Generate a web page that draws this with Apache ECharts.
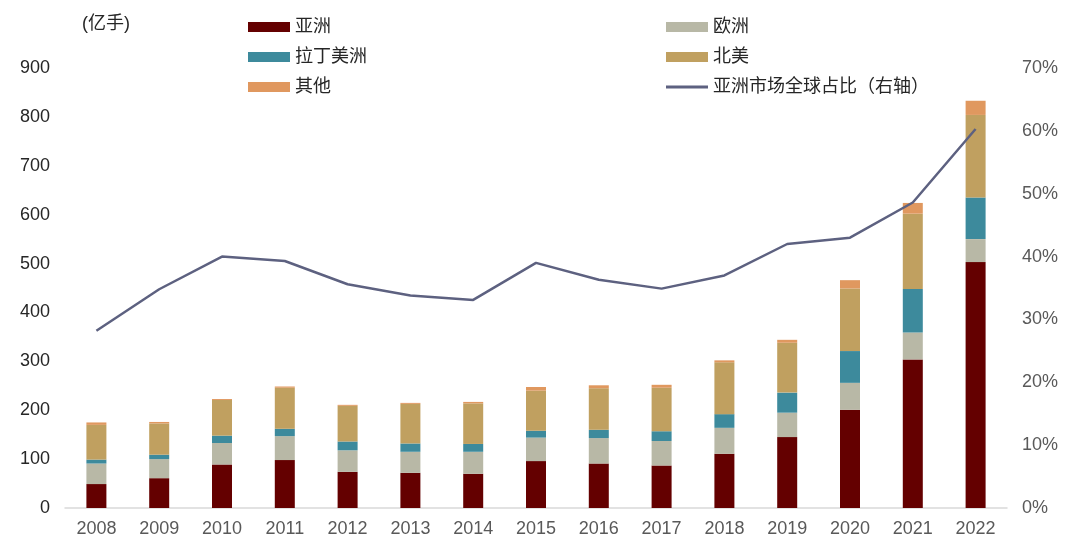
<!DOCTYPE html>
<html><head><meta charset="utf-8">
<script src="https://cdn.jsdelivr.net/npm/echarts@6/dist/echarts.min.js"></script>
<style>html,body{margin:0;padding:0;background:#fff}#c{width:1070px;height:555px}</style>
</head><body><div id="c"></div>
<script>
const years = ['2008','2009','2010','2011','2012','2013','2014','2015','2016','2017','2018','2019','2020','2021','2022'];
const asia   = [49, 61, 89, 98, 74, 72, 70, 96, 91, 87, 111, 145, 201, 304, 503];
const europe = [42, 39, 44, 49, 44, 43, 45, 48, 52, 50, 53, 50, 55, 55, 47];
const latam  = [8, 9, 15, 15, 18, 17, 16, 14, 17, 20, 28, 41, 65, 89, 85];
const northAmerica = [71, 64, 73, 84, 73, 81, 83, 82, 85, 89, 106, 102, 128, 154, 169];
const other  = [5, 3, 2, 2.5, 2, 2, 3, 7.5, 6, 6, 4, 6, 17, 22, 29];
const asiaShare = [28.2, 34.8, 40.0, 39.3, 35.6, 33.8, 33.1, 39.0, 36.3, 34.9, 37.0, 42.0, 43.0, 48.6, 60.3];
const leftTicks = {min: 0, max: 900, interval: 100};
const rightTicks = {min: 0, max: 70, interval: 10};

const FONT = '"Liberation Sans", Arial, "Noto Sans CJK SC", sans-serif';
const chart = echarts.init(document.getElementById('c'));
const barSeries = (name, data, color) => ({
  name, type: 'bar', stack: 'total', data, barWidth: 20,
  itemStyle: {color}, yAxisIndex: 0
});
const legendText = {fontSize: 18, color: '#262626', fontFamily: FONT};
chart.setOption({
  animation: false,
  textStyle: {fontFamily: FONT},
  grid: {left: 65, right: 63, top: 68, bottom: 47},
  legend: [
    {orient: 'vertical', left: 243, top: 13, itemWidth: 42, itemHeight: 10, itemGap: 12,
     icon: 'rect', textStyle: legendText,
     data: ['亚洲', '拉丁美洲', '其他']},
    {orient: 'vertical', left: 661, top: 13, itemWidth: 42, itemHeight: 10, itemGap: 12,
     textStyle: legendText, symbolKeepAspect: true,
     data: [{name: '欧洲', icon: 'rect'}, {name: '北美', icon: 'rect'},
            {name: '亚洲市场全球占比（右轴）', icon: 'path://M0,0 L42,0 L42,3 L0,3 Z'}]}
  ],
  graphic: [{type: 'text', left: 82, top: 15, style: {text: '(亿手)', fontSize: 18, fill: '#262626', fontFamily: FONT}}],
  xAxis: {
    type: 'category', data: years,
    axisLine: {lineStyle: {color: '#d9d9d9', width: 1.5}},
    axisTick: {show: false},
    axisLabel: {fontSize: 18, color: '#595959', margin: 12}
  },
  yAxis: [
    {type: 'value', min: leftTicks.min, max: leftTicks.max, interval: leftTicks.interval,
     splitLine: {show: false}, axisLine: {show: false}, axisTick: {show: false},
     axisLabel: {fontSize: 18, color: '#262626', margin: 15}},
    {type: 'value', min: rightTicks.min, max: rightTicks.max, interval: rightTicks.interval,
     position: 'right', splitLine: {show: false}, axisLine: {show: false}, axisTick: {show: false},
     axisLabel: {fontSize: 18, color: '#595959', margin: 15, formatter: '{value}%'}}
  ],
  series: [
    barSeries('亚洲', asia, '#640000'),
    barSeries('欧洲', europe, '#b8b8a6'),
    barSeries('拉丁美洲', latam, '#3d8a9c'),
    barSeries('北美', northAmerica, '#c0a060'),
    barSeries('其他', other, '#e0985f'),
    {name: '亚洲市场全球占比（右轴）', type: 'line', yAxisIndex: 1, data: asiaShare,
     symbol: 'none', lineStyle: {color: '#5d6180', width: 2.5}, itemStyle: {color: '#5d6180'}, z: 10}
  ]
});
</script></body></html>
